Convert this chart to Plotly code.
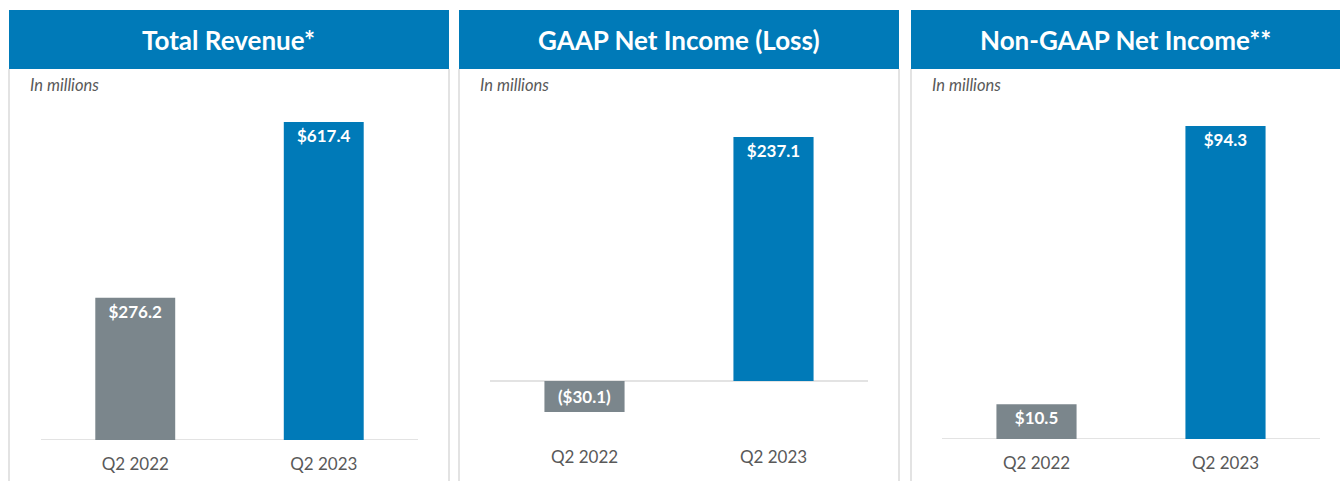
import plotly.graph_objects as go

# ---- data ----
categories = ["Q2 2022", "Q2 2023"]
panel_titles = ["Total Revenue*", "GAAP Net Income (Loss)", "Non-GAAP Net Income**"]
total_revenue = [276.2, 617.4]
gaap_net_income = [-30.1, 237.1]
non_gaap_net_income = [10.5, 94.3]
series = [total_revenue, gaap_net_income, non_gaap_net_income]
subtitle = "In millions"

# ---- styling ----
W, H = 1340, 481
BLUE = "#007AB8"
GREY = "#7B868C"
BORDER = "#DADADA"
TEXT = "#595959"
FONT = "Lato, 'Open Sans', Arial, sans-serif"
bar_colors = [GREY, BLUE]

def px_x(p):
    return p / W

def px_y(p):
    return 1 - p / H

# panel geometry in pixels: header box, plot x span, plot y span, y range
panels = [
    dict(hx=(9, 449), px=(41, 418), py=(100, 440), yr=(0, 660.1)),
    dict(hx=(459, 899), px=(490, 868), py=(100, 433), yr=(-50.53, 273.05)),
    dict(hx=(911, 1345), px=(942, 1320), py=(100, 439), yr=(0, 102.1)),
]

def fmt(v):
    return f"${v:,.1f}" if v >= 0 else f"(${abs(v):,.1f})"

fig = go.Figure()
shapes = []
annotations = []
layout_axes = {}

for i, (title, vals, pnl) in enumerate(zip(panel_titles, series, panels)):
    n = "" if i == 0 else str(i + 1)
    xa, ya = f"x{n}", f"y{n}"
    for cat, v, c in zip(categories, vals, bar_colors):
        fig.add_trace(go.Bar(
            x=[cat], y=[v], xaxis=xa, yaxis=ya,
            marker=dict(color=c, line=dict(width=0)),
            width=0.424,
            text=[fmt(v)], textposition="inside",
            insidetextanchor="end" if v > 0 else "middle",
            constraintext="none",
            textfont=dict(family=FONT, size=17, color="white", weight="bold"),
            hoverinfo="skip", showlegend=False,
        ))
    layout_axes[f"xaxis{n}"] = dict(
        domain=[px_x(pnl["px"][0]), px_x(pnl["px"][1])],
        anchor=ya, type="category", range=[-0.5, 1.5],
        showgrid=False, zeroline=False, showline=False, ticks="",
        tickfont=dict(family=FONT, size=17, color=TEXT),
        ticklabelstandoff=12,
        fixedrange=True,
    )
    layout_axes[f"yaxis{n}"] = dict(
        domain=[px_y(pnl["py"][1]), px_y(pnl["py"][0])],
        anchor=xa, range=list(pnl["yr"]),
        showgrid=False, zeroline=False, showticklabels=False, showline=False,
        fixedrange=True,
    )
    # baseline at zero
    shapes.append(dict(type="line", xref=f"{xa} domain", yref=ya,
                       x0=0, x1=1, y0=0, y1=0,
                       line=dict(color=BORDER, width=1.5), layer="below"))
    # panel body borders
    x0, x1 = px_x(pnl["hx"][0]), px_x(pnl["hx"][1])
    for xb in (x0, x1):
        shapes.append(dict(type="line", xref="paper", yref="paper",
                           x0=xb, x1=xb, y0=px_y(69), y1=0,
                           line=dict(color=BORDER, width=1.5), layer="below"))
    # header
    shapes.append(dict(type="rect", xref="paper", yref="paper",
                       x0=x0, x1=x1, y0=px_y(69), y1=px_y(10),
                       fillcolor=BLUE, line=dict(width=0), layer="below"))
    annotations.append(dict(text=title, xref="paper", yref="paper",
                            x=(x0 + min(x1, px_x(1340))) / 2,
                            y=px_y(40), xanchor="center", yanchor="middle",
                            showarrow=False,
                            font=dict(family=FONT, size=26, color="white", weight="bold")))
    annotations.append(dict(text=f"<i>{subtitle}</i>", xref="paper", yref="paper",
                            x=px_x(pnl["hx"][0] + 19), y=px_y(85),
                            xanchor="left", yanchor="middle", showarrow=False,
                            font=dict(family=FONT, size=16.5, color=TEXT)))

fig.update_layout(
    width=W, height=H,
    margin=dict(l=0, r=0, t=0, b=0),
    paper_bgcolor="white", plot_bgcolor="rgba(0,0,0,0)",
    barmode="overlay",
    shapes=shapes, annotations=annotations,
    **layout_axes,
)

fig.write_html("out.html", config={"displayModeBar": False},
               post_script="document.body.style.margin='0px';document.body.style.overflow='hidden';")
